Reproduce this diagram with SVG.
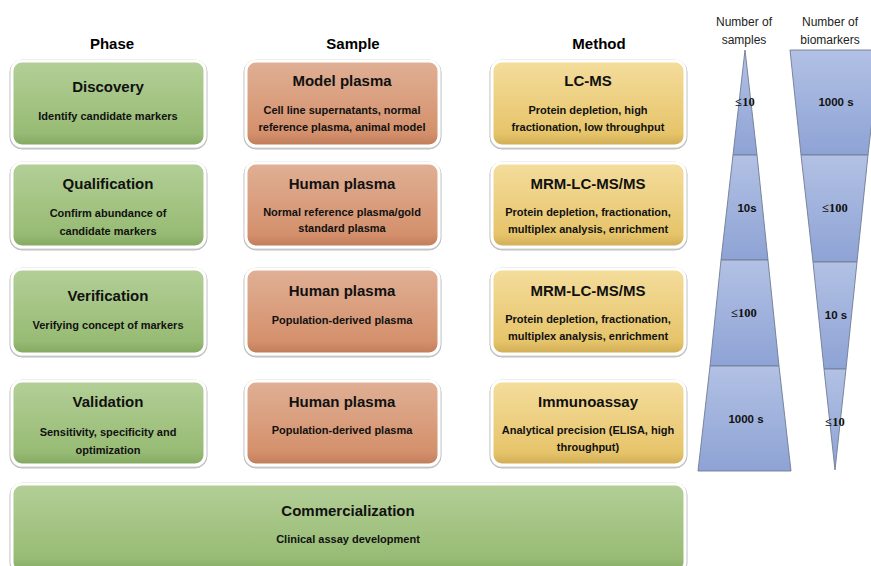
<svg xmlns="http://www.w3.org/2000/svg" width="871" height="566" viewBox="0 0 871 566">
<defs>
<linearGradient id="gG" x1="0" y1="0" x2="0" y2="1"><stop offset="0" stop-color="#b3cf97"/><stop offset="0.85" stop-color="#97bb74"/><stop offset="1" stop-color="#82a75f"/></linearGradient>
<linearGradient id="gO" x1="0" y1="0" x2="0" y2="1"><stop offset="0" stop-color="#e0b095"/><stop offset="0.85" stop-color="#d4906c"/><stop offset="1" stop-color="#bf7c58"/></linearGradient>
<linearGradient id="gY" x1="0" y1="0" x2="0" y2="1"><stop offset="0" stop-color="#f4dd9c"/><stop offset="0.85" stop-color="#e6c46a"/><stop offset="1" stop-color="#cfac55"/></linearGradient>
<linearGradient id="gB" x1="0" y1="0" x2="0" y2="1"><stop offset="0" stop-color="#b2c1e4"/><stop offset="1" stop-color="#8ea3d5"/></linearGradient>
</defs>
<style>
.sh{fill:#d0d0d0;stroke:#bdbdbd;stroke-width:1}
.fr{stroke:#ffffff;stroke-width:3}
.hd{font-family:"Liberation Sans",Arial,sans-serif;font-weight:bold;font-size:15px;fill:#000;text-anchor:middle}
.ti{font-family:"Liberation Sans",Arial,sans-serif;font-weight:bold;font-size:15px;fill:#111;text-anchor:middle}
.st{font-family:"Liberation Sans",Arial,sans-serif;font-weight:bold;font-size:11px;fill:#111;text-anchor:middle}
.nl{font-family:"Liberation Sans",Arial,sans-serif;font-size:12px;fill:#222;text-anchor:middle}
.tl{font-family:"Liberation Sans",Arial,sans-serif;font-weight:bold;font-size:11.5px;fill:#111;text-anchor:middle}
.tls{font-family:"Liberation Serif","Times New Roman",serif;font-weight:bold;font-size:12.5px;fill:#111;text-anchor:middle}
.seg{fill:url(#gB);stroke:#6f7a94;stroke-width:0.9}
</style>
<rect width="871" height="566" fill="#ffffff"/>
<g id="headers">
<text class="hd" x="112" y="49">Phase</text>
<text class="hd" x="353" y="49">Sample</text>
<text class="hd" x="599" y="49">Method</text>
</g>
<g id="discovery">
<rect class="sh" x="10" y="60" width="197" height="89" rx="12"/>
<rect class="fr" x="12" y="61" width="193" height="85" rx="10" fill="url(#gG)"/>
<text class="ti" x="108" y="92">Discovery</text>
<text class="st" x="108" y="120">Identify candidate markers</text>
</g>
<g id="qualification">
<rect class="sh" x="10" y="162" width="197" height="88" rx="12"/>
<rect class="fr" x="12" y="163" width="193" height="84" rx="10" fill="url(#gG)"/>
<text class="ti" x="108" y="189">Qualification</text>
<text class="st" x="108" y="217">Confirm abundance of</text>
<text class="st" x="108" y="235">candidate markers</text>
</g>
<g id="verification">
<rect class="sh" x="10" y="268" width="197" height="89" rx="12"/>
<rect class="fr" x="12" y="269" width="193" height="85" rx="10" fill="url(#gG)"/>
<text class="ti" x="108" y="301">Verification</text>
<text class="st" x="108" y="329">Verifying concept of markers</text>
</g>
<g id="validation">
<rect class="sh" x="10" y="380" width="197" height="88" rx="12"/>
<rect class="fr" x="12" y="381" width="193" height="84" rx="10" fill="url(#gG)"/>
<text class="ti" x="108" y="407">Validation</text>
<text class="st" x="108" y="436">Sensitivity, specificity and</text>
<text class="st" x="108" y="454">optimization</text>
</g>
<g id="model-plasma">
<rect class="sh" x="244" y="60" width="197" height="89" rx="12"/>
<rect class="fr" x="246" y="61" width="193" height="85" rx="10" fill="url(#gO)"/>
<text class="ti" x="342" y="86">Model plasma</text>
<text class="st" x="342" y="114">Cell line supernatants, normal</text>
<text class="st" x="342" y="131">reference plasma, animal model</text>
</g>
<g id="human-plasma-1">
<rect class="sh" x="244" y="162" width="197" height="88" rx="12"/>
<rect class="fr" x="246" y="163" width="193" height="84" rx="10" fill="url(#gO)"/>
<text class="ti" x="342" y="189">Human plasma</text>
<text class="st" x="342" y="216">Normal reference plasma/gold</text>
<text class="st" x="342" y="232">standard plasma</text>
</g>
<g id="human-plasma-2">
<rect class="sh" x="244" y="268" width="197" height="89" rx="12"/>
<rect class="fr" x="246" y="269" width="193" height="85" rx="10" fill="url(#gO)"/>
<text class="ti" x="342" y="296">Human plasma</text>
<text class="st" x="342" y="324">Population-derived plasma</text>
</g>
<g id="human-plasma-3">
<rect class="sh" x="244" y="380" width="197" height="88" rx="12"/>
<rect class="fr" x="246" y="381" width="193" height="84" rx="10" fill="url(#gO)"/>
<text class="ti" x="342" y="407">Human plasma</text>
<text class="st" x="342" y="434">Population-derived plasma</text>
</g>
<g id="lc-ms">
<rect class="sh" x="490" y="60" width="197" height="89" rx="12"/>
<rect class="fr" x="492" y="61" width="193" height="85" rx="10" fill="url(#gY)"/>
<text class="ti" x="588" y="86">LC-MS</text>
<text class="st" x="588" y="114">Protein depletion, high</text>
<text class="st" x="588" y="131">fractionation, low throughput</text>
</g>
<g id="mrm-1">
<rect class="sh" x="490" y="162" width="197" height="88" rx="12"/>
<rect class="fr" x="492" y="163" width="193" height="84" rx="10" fill="url(#gY)"/>
<text class="ti" x="588" y="189">MRM-LC-MS/MS</text>
<text class="st" x="588" y="216">Protein depletion, fractionation,</text>
<text class="st" x="588" y="233">multiplex analysis, enrichment</text>
</g>
<g id="mrm-2">
<rect class="sh" x="490" y="268" width="197" height="89" rx="12"/>
<rect class="fr" x="492" y="269" width="193" height="85" rx="10" fill="url(#gY)"/>
<text class="ti" x="588" y="296">MRM-LC-MS/MS</text>
<text class="st" x="588" y="323">Protein depletion, fractionation,</text>
<text class="st" x="588" y="340">multiplex analysis, enrichment</text>
</g>
<g id="immunoassay">
<rect class="sh" x="490" y="380" width="197" height="88" rx="12"/>
<rect class="fr" x="492" y="381" width="193" height="84" rx="10" fill="url(#gY)"/>
<text class="ti" x="588" y="407">Immunoassay</text>
<text class="st" x="588" y="434">Analytical precision (ELISA, high</text>
<text class="st" x="588" y="451">throughput)</text>
</g>
<g id="commercialization">
<rect class="sh" x="10" y="483" width="677" height="92" rx="12"/>
<rect class="fr" x="12" y="484" width="673" height="88" rx="10" fill="url(#gG)"/>
<text class="ti" x="348" y="516">Commercialization</text>
<text class="st" x="348" y="543">Clinical assay development</text>
</g>
<g id="samples-triangle">
<text class="nl" x="744" y="26">Number of</text>
<text class="nl" x="744" y="44">samples</text>
<polygon class="seg" points="745,50 757,155 733,155"/>
<polygon class="seg" points="733,155 757,155 768,260 721,260"/>
<polygon class="seg" points="721,260 768,260 779,366 710,366"/>
<polygon class="seg" points="710,366 779,366 791,471 698,471"/>
<text class="tls" x="745" y="106">≤10</text>
<text class="tl" x="747" y="212">10s</text>
<text class="tls" x="744" y="317">≤100</text>
<text class="tl" x="746" y="423">1000 s</text>
</g>
<g id="biomarkers-triangle">
<text class="nl" x="830" y="26">Number of</text>
<text class="nl" x="830" y="44">biomarkers</text>
<polygon class="seg" points="790,50 880,50 868,155 801,155"/>
<polygon class="seg" points="801,155 868,155 857,262 813,262"/>
<polygon class="seg" points="813,262 857,262 846,369 824,369"/>
<polygon class="seg" points="824,369 846,369 835,470"/>
<text class="tl" x="836" y="106">1000 s</text>
<text class="tls" x="835" y="212">≤100</text>
<text class="tl" x="836" y="319">10 s</text>
<text class="tls" x="835" y="426">≤10</text>
</g>
</svg>
